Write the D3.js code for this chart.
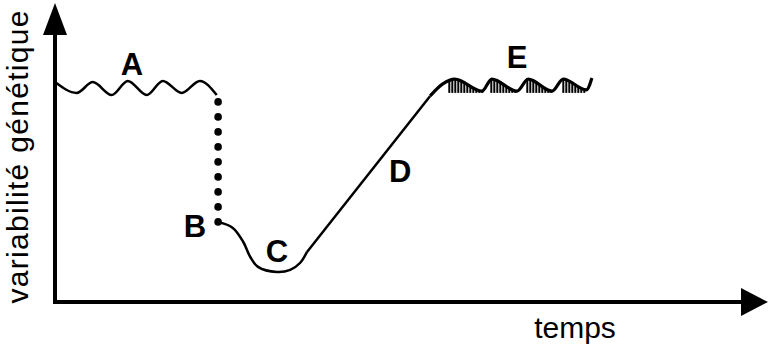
<!DOCTYPE html>
<html>
<head>
<meta charset="utf-8">
<script src="https://cdn.jsdelivr.net/npm/d3@7"></script>
<style>
body { margin: 0; background: #fff; }
svg { display: block; }
</style>
</head>
<body>
<svg id="chart" width="770" height="350"></svg>
<script>
// values in chart units: temps 0..100 , variabilité 0..100
var phaseA = [[0,73.3],[3.1,69.7],[5.4,73.3],[8.1,69],[10.4,73.7],[13.1,69],[15.4,73.7],[18.1,69.7],[20.7,73.7],[23.1,69]];
var bottleneckT = 23.3;
var bottleneckV = [66.7,61.7,56.7,51.7,46.7,41.7,36.7,31.7,26.7];
var phaseC = [[23.3,26.7],[25.4,24.7],[26.9,20],[27.9,15],[29,11.7],[31.7,10],[33.6,10.7],[35,13],[36,16.7]];
var phaseD = [[36,16.7],[53.6,68.7]];
var phaseE = [[53.6,68.7],[55.4,72.7],[57.1,74.3],[61,70.3],[62.4,74.3],[66,70.3],[67.6,74.3],[71,70.3],[72.6,74.3],[75.9,70.7],[76.7,74.7]];
var hatchBase = 69.7;
var labels = ["A","B","C","D","E"];
var labelT = [11, 20, 31.7, 49.3, 66];
var labelV = [75.7, 21.7, 13.3, 40, 78];
var xTitle = "temps";
var yTitle = "variabilité génétique";

var svg = d3.select("#chart");
var x = d3.scaleLinear().domain([0, 100]).range([55, 755]);
var y = d3.scaleLinear().domain([0, 100]).range([302, 2]);

// axes
svg.append("line").attr("x1", x(0)).attr("y1", y(0) + 2).attr("x2", x(0)).attr("y2", 30)
  .attr("stroke", "#000").attr("stroke-width", 4);
svg.append("path").attr("d", "M" + x(0) + ",3L" + (x(0) - 12) + ",35L" + (x(0) + 12) + ",35Z").attr("fill", "#000");
svg.append("line").attr("x1", x(0) - 2).attr("y1", y(0)).attr("x2", 745).attr("y2", y(0))
  .attr("stroke", "#000").attr("stroke-width", 4);
svg.append("path").attr("d", "M768," + y(0) + "L741," + (y(0) - 14) + "L741," + (y(0) + 14) + "Z").attr("fill", "#000");

svg.append("text").attr("transform", "translate(28,157) rotate(-90)")
  .attr("text-anchor", "middle").attr("textLength", 293).attr("lengthAdjust", "spacing")
  .style("font-family", "Liberation Sans, Arial, sans-serif").style("font-size", "30px")
  .text(yTitle);
svg.append("text").attr("x", 575).attr("y", 338).attr("text-anchor", "middle")
  .style("font-family", "Liberation Sans, Arial, sans-serif").style("font-size", "30px")
  .text(xTitle);

var smooth = d3.line().x(d => x(d[0])).y(d => y(d[1])).curve(d3.curveMonotoneX);
var straight = d3.line().x(d => x(d[0])).y(d => y(d[1]));
var g = svg.append("g").attr("fill", "none").attr("stroke", "#000").attr("stroke-width", 2.5);

g.append("path").attr("d", smooth(phaseA));
g.append("path").attr("d", d3.line().x(d => x(d[0])).y(d => y(d[1])).curve(d3.curveCatmullRom)(phaseC));
g.append("path").attr("d", straight(phaseD));
var pe = g.append("path").attr("d", smooth(phaseE)).attr("stroke-width", 3.2);

svg.selectAll(".dot").data(bottleneckV).enter().append("circle")
  .attr("cx", x(bottleneckT)).attr("cy", d => y(d)).attr("r", 3.8).attr("fill", "#000");

// hatching under the E curve where it is not rising steeply
var node = pe.node(), len = node.getTotalLength(), pts = [];
for (var i = 0; i <= len; i += 0.5) { var p = node.getPointAtLength(i); pts.push([p.x, p.y]); }
function yAt(px) { var b = pts.find(p => p[0] >= px); return b ? b[1] : pts[pts.length - 1][1]; }
for (var hx = x(55.9); hx < x(76.4); hx += 3) {
  var slope = yAt(hx + 1.5) - yAt(hx - 1.5);
  if (slope > -1.5) {
    g.append("line").attr("x1", hx).attr("x2", hx).attr("y1", yAt(hx) - 1).attr("y2", y(hatchBase))
      .attr("stroke-width", 2);
  }
}

svg.selectAll(".lbl").data(labels).enter().append("text")
  .attr("x", (d, i) => x(labelT[i])).attr("y", (d, i) => y(labelV[i]))
  .attr("text-anchor", "middle")
  .style("font-family", "Liberation Sans, Arial, sans-serif").style("font-size", "31px").style("font-weight", "bold")
  .text(d => d);
</script>
</body>
</html>
